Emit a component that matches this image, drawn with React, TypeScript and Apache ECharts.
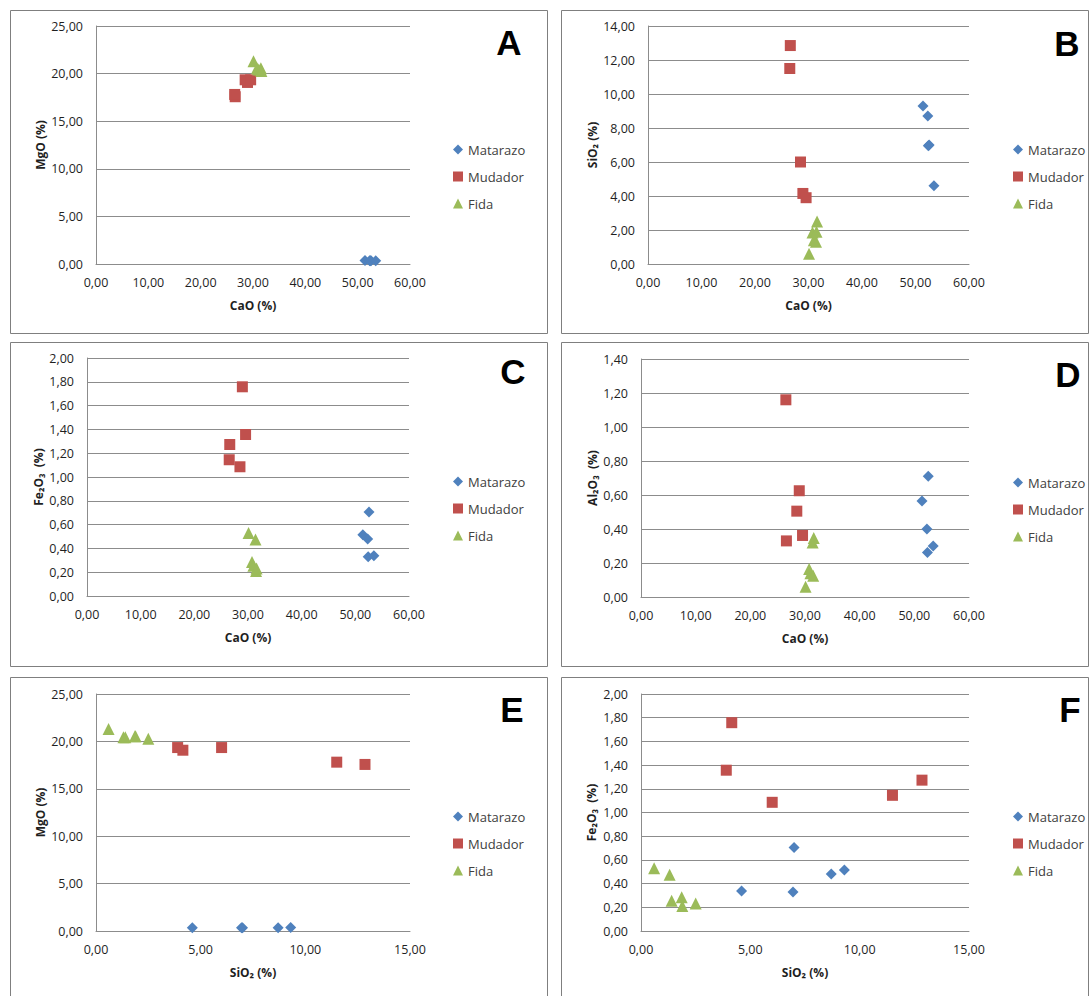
import React, { useEffect, useRef } from "react";
import * as echarts from "echarts";

// Series names
const seriesNames = ["Matarazo", "Mudador", "Fida"];

// Matarazo samples (%)
const matarazoCaO = [51.4, 52.3, 52.55, 52.4, 53.45];
const matarazoMgO = [0.38, 0.33, 0.33, 0.35, 0.33];
const matarazoSiO2 = [9.3, 8.7, 7.0, 6.95, 4.6];
const matarazoFe2O3 = [0.515, 0.48, 0.705, 0.33, 0.338];
const matarazoAl2O3 = [0.565, 0.4, 0.71, 0.262, 0.3];

// Mudador samples (%)
const mudadorCaO = [26.6, 26.5, 28.5, 28.95, 29.55];
const mudadorMgO = [17.57, 17.81, 19.35, 19.07, 19.35];
const mudadorSiO2 = [12.85, 11.5, 6.0, 4.15, 3.9];
const mudadorFe2O3 = [1.273, 1.145, 1.086, 1.758, 1.357];
const mudadorAl2O3 = [0.33, 1.16, 0.505, 0.625, 0.362];

// Fida samples (%)
const fidaCaO = [30.1, 31.4, 31.0, 30.75, 31.5, 31.6];
const fidaMgO = [21.3, 20.44, 20.44, 20.55, 20.55, 20.27];
const fidaSiO2 = [0.6, 1.31, 1.4, 1.86, 1.89, 2.5];
const fidaFe2O3 = [0.53, 0.475, 0.255, 0.285, 0.21, 0.232];
const fidaAl2O3 = [0.06, 0.32, 0.14, 0.164, 0.125, 0.347];

// Panel letters and axis titles
const panelLetters = ["A", "B", "C", "D", "E", "F"];
const xTitles = ["CaO (%)", "CaO (%)", "CaO (%)", "CaO (%)", "SiO₂ (%)", "SiO₂ (%)"];
const yTitles = ["MgO (%)", "SiO₂ (%)", "Fe₂O₃  (%)", "Al₂O₃  (%)", "MgO (%)", "Fe₂O₃  (%)"];

const data: Record<string, Record<string, number[]>> = {
  Matarazo: { CaO: matarazoCaO, MgO: matarazoMgO, SiO2: matarazoSiO2, Fe2O3: matarazoFe2O3, Al2O3: matarazoAl2O3 },
  Mudador: { CaO: mudadorCaO, MgO: mudadorMgO, SiO2: mudadorSiO2, Fe2O3: mudadorFe2O3, Al2O3: mudadorAl2O3 },
  Fida: { CaO: fidaCaO, MgO: fidaMgO, SiO2: fidaSiO2, Fe2O3: fidaFe2O3, Al2O3: fidaAl2O3 },
};

const colors: Record<string, string> = { Matarazo: "#4F81BD", Mudador: "#C0504D", Fida: "#9BBB59" };
const symbols: Record<string, string> = { Matarazo: "diamond", Mudador: "rect", Fida: "triangle" };
const symbolSizes: Record<string, number> = { Matarazo: 11, Mudador: 11, Fida: 12 };

const panels = [
  { box: [10, 10, 537, 323], grid: [96, 26, 314, 238], xKey: "CaO", yKey: "MgO", xMax: 60, xInt: 10, yMax: 25, yInt: 5, yGap: 50, legend: [448, 137], letterPos: [509, 42] },
  { box: [561, 10, 527, 323], grid: [648, 26, 321, 238], xKey: "CaO", yKey: "SiO2", xMax: 60, xInt: 10, yMax: 14, yInt: 2, yGap: 50, legend: [1008, 137], letterPos: [1067, 43] },
  { box: [10, 342, 537, 324], grid: [87, 358, 322, 238], xKey: "CaO", yKey: "Fe2O3", xMax: 60, xInt: 10, yMax: 2, yInt: 0.2, yGap: 43, legend: [448, 469], letterPos: [513, 371] },
  { box: [561, 342, 527, 324], grid: [641, 359, 328, 238], xKey: "CaO", yKey: "Al2O3", xMax: 60, xInt: 10, yMax: 1.4, yInt: 0.2, yGap: 43, legend: [1008, 470], letterPos: [1068, 374] },
  { box: [10, 677, 537, 330], grid: [96, 694, 314, 237], xKey: "SiO2", yKey: "MgO", xMax: 15, xInt: 5, yMax: 25, yInt: 5, yGap: 50, legend: [448, 804], letterPos: [512, 709] },
  { box: [561, 677, 527, 330], grid: [641, 694, 328, 237], xKey: "SiO2", yKey: "Fe2O3", xMax: 15, xInt: 5, yMax: 2, yInt: 0.2, yGap: 44, legend: [1008, 804], letterPos: [1070, 709] },
];

const fmt = (v: number) => v.toFixed(2).replace(".", ",");
const FONT = "'Open Sans', sans-serif";
const GRID_COLOR = "#8c8c8c";
const TEXT_COLOR = "#1f1f1f";

export default function App() {
  const ref = useRef<HTMLDivElement>(null);

  useEffect(() => {
    const chart = echarts.init(ref.current!, null, { renderer: "svg" });

    const grids: any[] = [];
    const xAxes: any[] = [];
    const yAxes: any[] = [];
    const series: any[] = [];
    const legends: any[] = [];
    const graphics: any[] = [];

    panels.forEach((p, i) => {
      graphics.push({
        type: "rect",
        silent: true,
        z: -10,
        shape: { x: p.box[0] + 0.5, y: p.box[1] + 0.5, width: p.box[2], height: p.box[3] },
        style: { fill: "#fff", stroke: "#7f7f7f", lineWidth: 1 },
      });
      graphics.push({
        type: "text",
        silent: true,
        x: p.letterPos[0],
        y: p.letterPos[1],
        style: {
          text: panelLetters[i],
          fontFamily: "'Liberation Sans', Arial, sans-serif",
          fontWeight: "bold",
          fontSize: 35,
          fill: "#000",
          textAlign: "center",
          textVerticalAlign: "middle",
        },
      });

      grids.push({ left: p.grid[0], top: p.grid[1], width: p.grid[2], height: p.grid[3], containLabel: false });

      xAxes.push({
        type: "value",
        gridIndex: i,
        min: 0,
        max: p.xMax,
        interval: p.xInt,
        name: xTitles[i],
        nameLocation: "middle",
        nameGap: 35,
        nameTextStyle: { fontFamily: FONT, fontWeight: "bold", fontSize: 12, color: TEXT_COLOR },
        axisLine: { show: true, onZero: false, lineStyle: { color: GRID_COLOR, width: 1 } },
        axisTick: { show: false },
        splitLine: { show: false },
        axisLabel: { formatter: fmt, fontFamily: FONT, fontSize: 12.5, color: TEXT_COLOR, margin: 12 },
      });

      yAxes.push({
        type: "value",
        gridIndex: i,
        min: 0,
        max: p.yMax,
        interval: p.yInt,
        name: yTitles[i],
        nameLocation: "middle",
        nameRotate: 90,
        nameGap: p.yGap,
        nameTextStyle: { fontFamily: FONT, fontWeight: "bold", fontSize: 12, color: TEXT_COLOR },
        axisLine: { show: true, lineStyle: { color: GRID_COLOR, width: 1 } },
        axisTick: { show: false },
        splitLine: { show: true, lineStyle: { color: GRID_COLOR, width: 1 } },
        axisLabel: { formatter: fmt, fontFamily: FONT, fontSize: 12.5, color: TEXT_COLOR, margin: 13 },
      });

      seriesNames.forEach((name) => {
        const xs = data[name][p.xKey];
        const ys = data[name][p.yKey];
        series.push({
          type: "scatter",
          name,
          xAxisIndex: i,
          yAxisIndex: i,
          symbol: symbols[name],
          symbolSize: symbolSizes[name],
          itemStyle: { color: colors[name], opacity: 1 },
          data: xs.map((x, k) => [x, ys[k]]),
        });
      });

      legends.push({
        orient: "vertical",
        left: p.legend[0],
        top: p.legend[1],
        itemWidth: 10,
        itemHeight: 10,
        itemGap: 12,
        selectedMode: false,
        data: seriesNames,
        textStyle: { fontFamily: FONT, fontSize: 13, lineHeight: 15, color: "#404040" },
      });
    });

    chart.setOption({
      animation: false,
      backgroundColor: "#fff",
      grid: grids,
      xAxis: xAxes,
      yAxis: yAxes,
      series,
      legend: legends,
      graphic: graphics,
    });

    return () => chart.dispose();
  }, []);

  return (
    <div
      ref={ref}
      style={{ position: "absolute", left: 0, top: 0, width: 1090, height: 996, background: "#fff" }}
    />
  );
}
